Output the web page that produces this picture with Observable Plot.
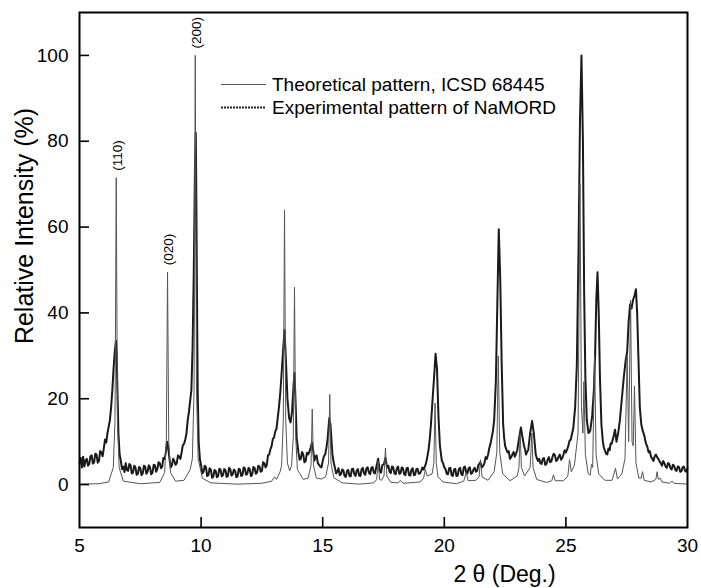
<!DOCTYPE html>
<html><head><meta charset="utf-8">
<script src="https://cdn.jsdelivr.net/npm/d3@7"></script>
<script src="https://cdn.jsdelivr.net/npm/@observablehq/plot@0.6"></script>
<style>
body{margin:0;background:#fff;}
#wrap{position:relative;width:701px;height:588px;font-family:"Liberation Sans",Arial,Helvetica,sans-serif;}
</style></head><body><div id="wrap"></div>
<script>
// 2θ (deg) and relative intensity (%)
const theoretical = [
[5.0,0.1],[5.8,0.2],[6.2,0.6],[6.39,4.0],[6.46,15],[6.51,71.5],[6.56,15],[6.63,4.0],[6.8,0.8],[7.5,0.2],
[8.3,0.5],[8.50,2.8],[8.57,10],[8.62,49.5],[8.67,10],[8.74,2.8],[8.95,0.8],[9.3,1.0],[9.55,3.5],
[9.64,6],[9.71,22],[9.76,100],[9.81,22],[9.88,6],[10.05,1.5],[10.4,0.4],[11.5,0.1],[12.5,0.3],
[12.9,0.8],[13.02,1.8],[13.1,1.2],[13.25,3.0],[13.31,4.5],[13.38,15],[13.43,64],[13.48,15],[13.55,5],[13.64,3.2],
[13.72,4.5],[13.79,11],[13.84,46],[13.89,11],[13.96,3.5],[14.2,1.2],[14.40,1.5],[14.52,4.5],[14.57,17.6],
[14.62,4.5],[14.74,1.5],[14.95,1.3],[15.12,1.8],[15.24,5],[15.29,21],[15.34,5],[15.46,1.6],[15.8,0.4],
[16.5,0.1],[17.1,0.4],[17.22,1.2],[17.28,5.5],[17.34,1.2],[17.42,1.0],[17.52,2.0],[17.58,8.5],[17.64,2.0],
[17.8,0.5],[18.1,0.4],[18.2,1.0],[18.3,0.3],[19.0,0.6],[19.15,1.5],[19.22,3.5],[19.3,2.0],[19.50,2.5],
[19.57,5],[19.62,19],[19.67,5],[19.74,1.8],[19.95,0.6],[20.5,0.2],[20.8,0.8],[20.9,2.8],[20.98,0.9],
[21.3,1.0],[21.43,1.8],[21.49,5.8],[21.55,1.8],[21.8,1.0],[22.05,3.0],[22.16,7.5],[22.22,30],[22.28,7.5],
[22.4,2.5],[22.7,0.9],[23.0,2.0],[23.07,4],[23.12,12],[23.17,4],[23.3,2.0],[23.53,4],[23.60,12],[23.65,4],
[23.8,1.2],[24.2,0.5],[24.42,0.9],[24.49,2.3],[24.56,0.9],[24.9,0.9],[25.08,2.0],[25.15,5.8],[25.22,3],
[25.35,4.5],[25.5,12],[25.58,70],[25.64,18],[25.7,12],[25.74,24],[25.8,7],[25.92,2.5],[26.0,2.2],
[26.05,4.7],[26.1,4],[26.18,30],[26.24,7],[26.35,2.5],[26.6,1.0],[26.9,1.0],[27.04,3.8],[27.12,1.3],
[27.3,2.5],[27.43,6],[27.52,30],[27.58,10],[27.66,43],[27.72,10],[27.77,9],[27.82,23],[27.88,5],
[28.0,1.5],[28.1,1.5],[28.15,3],[28.22,1.0],[28.5,0.6],[28.7,1.2],[28.75,3],[28.8,1.2],[28.88,1.5],
[28.95,0.6],[29.25,0.3],[29.37,0.8],[29.45,0.3],[30.0,0.1]
];
const experimental = [
[5.0,5.0],[5.05,6.2],[5.1,4.0],[5.15,6.5],[5.2,4.2],[5.25,5.6],[5.3,6.0],[5.35,4.4],[5.4,4.8],[5.45,6.6],[5.5,6.8],[5.55,4.9],[5.6,5.2],[5.65,7.2],[5.7,7.0],[5.75,5.1],[5.8,5.5],[5.85,7.8],[5.9,7.5],[5.95,6.6],
[6.0,8.5],[6.05,10.5],[6.1,9.8],[6.15,12],[6.2,13.5],[6.25,15],[6.3,18],[6.35,22],[6.4,27],[6.45,31],
[6.5,33.5],[6.53,30],[6.56,22],[6.6,12],[6.65,7],[6.7,5.5],[6.75,3.6],[6.8,4.2],[6.85,2.9],[6.9,5.0],[6.95,3.4],[7.0,3.2],[7.05,4.8],[7.1,4.5],[7.15,2.6],
[7.2,2.8],[7.25,4.4],[7.3,4.0],[7.35,2.3],[7.4,2.5],[7.45,4.1],[7.5,3.8],[7.55,2.2],[7.6,2.6],[7.65,4.4],[7.7,4.2],[7.75,2.5],[7.8,3.0],[7.85,4.5],[7.9,4.0],[7.95,2.4],[8.0,2.8],[8.05,4.6],[8.1,4.5],[8.15,3.0],
[8.2,3.6],[8.25,5.2],[8.3,5.0],[8.35,3.8],[8.4,4.2],[8.45,6.2],[8.5,6.0],[8.55,7.5],[8.6,10.0],[8.64,9.0],[8.7,6.0],[8.75,4.0],[8.8,4.5],[8.85,6.0],[8.9,5.5],[8.95,4.6],
[9.0,5.0],[9.05,6.8],[9.1,6.5],[9.15,6.0],[9.2,7.5],[9.25,9.2],[9.3,9.5],[9.35,10.5],[9.4,12],[9.45,15],[9.5,17],[9.55,19.5],[9.6,22],[9.65,32],
[9.7,50],[9.75,75],[9.78,82],[9.8,70],[9.83,45],[9.86,22],[9.9,10],[9.95,6],[10.0,4.5],[10.05,2.6],[10.1,3.0],
[10.15,4.4],[10.2,4.0],[10.25,2.0],[10.3,2.2],[10.35,3.8],[10.4,3.5],[10.45,1.6],[10.5,1.8],[10.55,3.4],[10.6,3.2],[10.65,1.7],[10.7,2.0],[10.75,3.7],[10.8,3.5],[10.85,1.9],[10.9,2.2],[10.95,3.6],[11.0,3.4],
[11.05,1.8],[11.1,2.0],[11.15,3.9],[11.2,3.6],[11.25,2.1],[11.3,2.4],[11.35,3.5],[11.4,3.2],[11.45,1.7],[11.5,1.9],[11.55,3.7],[11.6,3.5],[11.65,2.0],[11.7,2.2],[11.75,4.0],[11.8,3.8],[11.85,2.3],[11.9,2.5],
[11.95,3.9],[12.0,3.6],[12.05,2.0],[12.1,2.3],[12.15,4.1],[12.2,3.9],[12.25,2.5],[12.3,2.8],[12.35,4.4],[12.4,4.2],[12.45,3.0],[12.5,3.2],[12.55,5.2],[12.6,5.0],[12.65,4.0],[12.7,4.5],[12.75,6.8],[12.8,7.0],
[12.85,8.2],[12.9,9.0],[12.95,10.6],[13.0,11.0],[13.05,12.4],[13.1,13.0],[13.15,15.5],[13.2,18.0],[13.25,21],[13.3,25.0],[13.38,32],[13.43,36],[13.48,30],[13.55,20],
[13.62,15.5],[13.68,14.5],[13.74,17],[13.8,23],[13.84,26],[13.88,20],[13.93,11],[14.0,7.5],[14.05,5.8],[14.1,6.0],
[14.15,7.6],[14.2,7.0],[14.25,5.2],[14.3,5.5],[14.35,7.4],[14.4,7.0],[14.45,7.6],[14.5,8.5],[14.56,9.8],[14.62,7.5],[14.66,5.6],[14.7,6.5],[14.75,6.8],[14.8,5.0],[14.85,4.6],[14.9,4.2],
[14.95,4.0],[15.0,5.5],[15.05,6.6],[15.1,7.0],[15.15,8.5],[15.2,10.5],[15.27,15.5],[15.32,14],[15.4,7],[15.45,5.2],[15.5,4.0],[15.55,2.6],[15.6,3.0],[15.65,3.8],[15.7,2.2],
[15.75,2.4],[15.8,3.5],[15.85,3.3],[15.9,2.0],[15.95,1.8],[16.0,3.2],[16.05,3.4],[16.1,2.0],[16.15,1.9],[16.2,3.6],[16.25,3.7],[16.3,2.4],[16.35,2.0],[16.4,3.3],[16.45,3.6],[16.5,2.1],[16.55,2.0],[16.6,3.6],
[16.65,3.9],[16.7,2.6],[16.75,2.3],[16.8,3.8],[16.85,4.0],[16.9,2.8],[16.95,2.4],[17.0,3.9],[17.05,4.1],[17.1,2.8],[17.15,2.6],[17.2,4.0],[17.28,6.0],[17.35,3.0],[17.4,2.8],[17.45,4.5],
[17.52,4.8],[17.58,6.2],[17.65,4.0],[17.7,4.4],[17.75,3.0],[17.8,2.7],[17.85,4.2],[17.9,4.0],[17.95,2.6],[18.0,2.4],[18.05,3.8],[18.1,4.2],[18.15,2.5],[18.2,2.6],[18.25,4.0],
[18.3,3.8],[18.35,2.4],[18.4,2.2],[18.45,3.8],[18.5,3.9],[18.55,2.2],[18.6,2.1],[18.65,3.5],[18.7,3.8],[18.75,2.2],[18.8,2.3],[18.85,3.6],[18.9,3.7],[18.95,2.5],[19.0,2.6],[19.05,3.2],
[19.1,4.0],[19.15,3.5],[19.2,4.2],[19.25,5.0],[19.3,6.4],[19.35,8.0],[19.4,10.5],[19.45,14],[19.52,20],[19.58,25],[19.64,30.5],[19.7,27],[19.76,16],
[19.82,9],[19.86,7.2],[19.9,5.5],[19.95,5.0],[20.0,4.0],[20.05,3.6],[20.1,2.5],[20.15,2.4],[20.2,3.8],[20.25,3.9],[20.3,2.2],[20.35,2.0],[20.4,3.5],[20.45,3.7],[20.5,2.0],[20.55,2.1],[20.6,3.6],
[20.65,3.9],[20.7,2.4],[20.75,2.2],[20.8,4.0],[20.85,4.2],[20.9,2.8],[20.95,2.6],[21.0,3.8],[21.05,4.0],[21.1,2.5],[21.15,2.7],[21.2,3.5],[21.25,3.9],[21.3,3.0],[21.35,3.2],[21.4,4.5],[21.48,5.2],
[21.55,4.0],[21.6,4.4],[21.65,5.0],[21.7,6.4],[21.75,6.0],[21.8,7.0],[21.85,8.5],[21.9,9.5],[21.95,11],[22.0,12.5],[22.05,15],[22.12,24],[22.18,42],[22.24,59.5],
[22.3,48],[22.36,28],[22.42,14],[22.46,11],[22.5,9],[22.55,8.2],[22.6,7.5],[22.65,7.8],[22.7,6.0],[22.75,6.4],[22.8,7.0],[22.85,7.6],[22.9,6.5],[22.95,7.2],[23.0,8.0],
[23.08,11],[23.15,13.3],[23.2,11.5],[23.28,9],[23.32,8.2],[23.36,7.0],[23.4,7.6],[23.45,8.0],[23.53,12],[23.61,14.8],[23.68,12],
[23.76,7.0],[23.8,6.2],[23.85,5.5],[23.9,6.0],[23.95,5.0],[24.0,4.8],[24.05,6.0],[24.1,6.2],[24.15,4.6],[24.2,4.8],[24.25,5.8],[24.3,6.4],[24.35,5.2],[24.4,5.4],[24.45,6.5],
[24.5,7.2],[24.55,6.8],[24.6,5.5],[24.65,5.8],[24.7,6.5],[24.75,7.0],[24.8,5.8],[24.85,6.2],[24.9,7.0],[24.95,8.0],[25.0,7.5],[25.05,8.2],[25.1,9.0],[25.15,10.2],[25.2,10.5],[25.25,11.8],[25.3,13],
[25.38,18],[25.45,28],[25.52,55],[25.58,85],[25.64,100],[25.7,80],[25.75,45],[25.8,25],[25.86,15],
[25.93,12],[26.0,12.5],[26.08,16],[26.15,22],[26.2,30],[26.25,43],[26.3,49.5],[26.35,40],[26.4,25],
[26.46,14],[26.52,10],[26.56,8.6],[26.6,8.0],[26.65,7.2],[26.7,7.0],[26.75,8.4],[26.8,8.0],[26.84,9.6],[26.88,9.5],[26.95,11],[27.02,12.8],[27.08,10],
[27.15,12],[27.22,15],[27.3,20],[27.38,25],[27.46,29],[27.52,31],[27.58,38],[27.64,42],[27.7,41],
[27.76,43],[27.82,44],[27.88,45.5],[27.93,40],[27.98,30],[28.04,18],[28.1,14],[28.16,12.5],[28.22,11.5],
[28.26,10.4],[28.3,9.5],[28.35,8.8],[28.4,7.5],[28.45,7.8],[28.5,6.5],[28.55,6.0],[28.6,5.5],[28.65,6.6],[28.7,7.0],[28.75,6.4],[28.8,6.0],[28.85,5.4],[28.9,5.0],[28.95,4.4],[29.0,5.5],[29.05,5.0],[29.1,4.2],
[29.15,3.9],[29.2,5.0],[29.25,4.8],[29.3,3.8],[29.35,3.5],[29.4,4.6],[29.45,4.4],[29.5,3.4],[29.55,3.2],[29.6,4.2],[29.65,4.1],[29.7,3.0],[29.75,3.1],[29.8,4.0],[29.85,4.2],[29.9,3.2],[29.95,3.0],[30.0,3.8]
];
const xTicks = [5, 10, 15, 20, 25, 30];
const yTicks = [0, 20, 40, 60, 80, 100];
const peakLabels = ["(110)", "(020)", "(200)"];
const peakPositions = [6.51, 8.62, 9.76];
const peakHeights = [71.5, 49.5, 100];
const seriesNames = ["Theoretical pattern, ICSD 68445", "Experimental pattern of NaMORD"];
const xTitle = "2 θ (Deg.)";
const yTitle = "Relative Intensity (%)";

const W = 701, H = 588, mL = 79, mR = 14, mT = 12, mB = 61;
const plotW = W - mL - mR, plotH = H - mT - mB;
const font = '"Liberation Sans", Arial, Helvetica, sans-serif';

const toObj = arr => arr.map(([x, y]) => ({x, y}));
const peaks = peakLabels.map((t, i) => ({t, x: peakPositions[i], y: peakHeights[i]}));

const chart = Plot.plot({
  width: W, height: H,
  marginLeft: mL, marginRight: mR, marginTop: mT, marginBottom: mB,
  style: {fontFamily: font, fontSize: "19px", color: "#000", background: "#fff", overflow: "visible"},
  x: {domain: [5, 30]},
  y: {domain: [-10, 110]},
  marks: [
    Plot.line(toObj(experimental), {x: "x", y: "y", stroke: "#1a1a1a", strokeWidth: 2}),
    Plot.line(toObj(theoretical), {x: "x", y: "y", stroke: "#555", strokeWidth: 1}),
    Plot.axisX(xTicks, {tickSize: 0, tickPadding: 11, label: null, tickFormat: d => String(d), fontSize: 19}),
    Plot.axisY(yTicks, {tickSize: 0, tickPadding: 11, label: null, tickFormat: d => String(d), fontSize: 19}),
    Plot.tickX(xTicks.slice(1, -1), {x: d => d, insetTop: plotH - 10, stroke: "#000", strokeWidth: 1.6}),
    Plot.tickY(yTicks, {y: d => d, insetRight: plotW - 10, stroke: "#000", strokeWidth: 1.6}),
    Plot.text(peaks, {x: "x", y: "y", text: "t", rotate: -90, textAnchor: "start", dy: -7, dx: 1, fontSize: 13.5}),
    Plot.text([yTitle], {frameAnchor: "left", textAnchor: "middle", lineAnchor: "middle", rotate: -90, dx: -55, dy: -44, fontSize: 25}),
    Plot.text([xTitle], {frameAnchor: "bottom", textAnchor: "middle", lineAnchor: "middle", dx: 121, dy: 47, fontSize: 23}),
    Plot.frame({stroke: "#000", strokeWidth: 2})
  ]
});
const wrap = document.getElementById("wrap");
wrap.appendChild(chart);

const legend = document.createElement("div");
legend.style.cssText = "position:absolute;left:221px;top:73px;font-size:19px;line-height:23px;color:#000;";
const legendStyles = [
  {stroke: "#555", width: 1.2, dash: ""},
  {stroke: "#222", width: 2, dash: "2,1"}
];
seriesNames.forEach((name, i) => {
  const row = document.createElement("div");
  row.style.cssText = "display:flex;align-items:center;height:23px;white-space:nowrap;";
  const s = legendStyles[i];
  row.innerHTML = `<svg width="51" height="23" style="flex:none"><line x1="0" x2="45" y1="11.5" y2="11.5" stroke="${s.stroke}" stroke-width="${s.width}" stroke-dasharray="${s.dash}"/></svg><span>${name}</span>`;
  legend.appendChild(row);
});
wrap.appendChild(legend);
</script>
</body></html>
